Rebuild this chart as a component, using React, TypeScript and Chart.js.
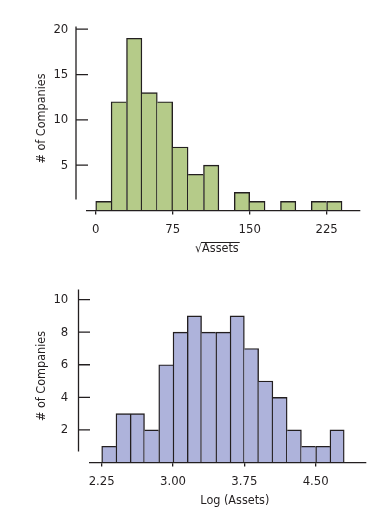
import React, { useEffect, useRef } from "react";
import { Chart, registerables } from "chart.js";

Chart.register(...registerables);

// ---- Data: histogram of sqrt(Assets) ----
const sqrtBinStart = 0;
const sqrtBinWidth = 15;
const sqrtCounts = [1, 12, 19, 13, 12, 7, 4, 5, 0, 2, 1, 0, 1, 0, 1, 1];
const sqrtXTicks = [0, 75, 150, 225];
const sqrtYTicks = [5, 10, 15, 20];

// ---- Data: histogram of Log(Assets) ----
const logBinStart = 2.25;
const logBinWidth = 0.15;
const logCounts = [1, 3, 3, 2, 6, 8, 9, 8, 8, 9, 7, 5, 4, 2, 1, 1, 2];
const logXTicks = [2.25, 3.0, 3.75, 4.5];
const logYTicks = [2, 4, 6, 8, 10];

const yTitle = "# of Companies";
const sqrtXTitle = "√Assets";
const logXTitle = "Log (Assets)";

const FONT = "'Liberation Sans Narrow', 'DejaVu Sans Condensed', 'Arial Narrow', sans-serif";
const INK = "#231f20";
const BW = 1.4;
const TICK_SIZE = 13;
const TITLE_SIZE = 12.5;

type Spec = {
  counts: number[];
  start: number;
  width: number;
  xMin: number;
  xMax: number;
  yMax: number;
  xTicks: number[];
  yTicks: number[];
  decimals: number;
  fill: string;
  xTitle: string;
  xTitleAt: number;
  overline: boolean;
  padTop: number;
  padRight: number;
  yWidth: number;
  xHeight: number;
  axisGap: number;
  tickLen: number;
  labelPad: number;
};

const decorPlugin = {
  id: "histDecor",
  afterDraw(chart: any) {
    const spec: Spec = chart.options.plugins.histDecor.spec;
    const ctx = chart.ctx;
    const ca = chart.chartArea;
    const ys = chart.scales.y;
    const xs = chart.scales.x;
    ctx.save();
    ctx.strokeStyle = INK;
    ctx.lineWidth = 1.3;
    // detached y axis line with inward ticks
    const ax = ca.left - spec.axisGap;
    ctx.beginPath();
    ctx.moveTo(ax, ca.top);
    ctx.lineTo(ax, ca.bottom - 11);
    for (const t of ys.ticks) {
      const py = ys.getPixelForValue(t.value);
      ctx.moveTo(ax, py);
      ctx.lineTo(ax + spec.tickLen, py);
    }
    ctx.stroke();
    // x title
    ctx.font = `${TITLE_SIZE}px ${FONT}`;
    ctx.fillStyle = INK;
    ctx.textAlign = "center";
    ctx.textBaseline = "middle";
    const tx = xs.getPixelForValue(spec.xTitleAt);
    const ty = ca.bottom + 38.5;
    ctx.fillText(spec.xTitle, tx, ty);
    if (spec.overline) {
      const full = ctx.measureText(spec.xTitle).width;
      const rad = ctx.measureText(spec.xTitle.charAt(0)).width;
      const left = tx - full / 2 + rad - 1;
      const right = tx + full / 2 + 1;
      const oy = ty - 6.5;
      ctx.lineWidth = 1;
      ctx.beginPath();
      ctx.moveTo(left, oy);
      ctx.lineTo(right, oy);
      ctx.stroke();
    }
    ctx.restore();
  },
};

function makeConfig(spec: Spec): any {
  const counts = spec.counts;
  return {
    type: "bar",
    data: {
      datasets: [
        {
          data: counts.map((c, i) => ({ x: spec.start + (i + 0.5) * spec.width, y: c })),
          backgroundColor: spec.fill,
          borderColor: INK,
          borderSkipped: false,
          borderWidth: (ctx: any) => {
            const i = ctx.dataIndex;
            const c = counts[i];
            const prev = i > 0 ? counts[i - 1] : 0;
            const next = i < counts.length - 1 ? counts[i + 1] : 0;
            return { left: prev <= c ? BW : 0, right: next < c ? BW : 0, top: BW, bottom: 0 };
          },
          barPercentage: 1,
          categoryPercentage: 1,
        },
      ],
    },
    options: {
      responsive: false,
      animation: false,
      devicePixelRatio: 1,
      layout: { padding: { top: spec.padTop, right: spec.padRight, left: 0, bottom: 0 } },
      plugins: {
        legend: { display: false },
        tooltip: { enabled: false },
        histDecor: { spec },
      },
      scales: {
        x: {
          type: "linear",
          offset: false,
          min: spec.xMin,
          max: spec.xMax,
          afterBuildTicks: (s: any) => {
            s.ticks = spec.xTicks.map((v) => ({ value: v }));
          },
          afterFit: (s: any) => {
            s.height = spec.xHeight;
          },
          ticks: {
            font: { family: FONT, size: TICK_SIZE },
            color: INK,
            padding: 7,
            maxRotation: 0,
            autoSkip: false,
            callback: (v: any) => Number(v).toFixed(spec.decimals),
          },
          grid: {
            display: true,
            offset: false,
            drawOnChartArea: false,
            drawTicks: true,
            tickLength: 4,
            color: INK,
            lineWidth: 1.3,
            z: 1,
          },
          border: { display: true, color: INK, width: 1.3, z: 1 },
        },
        y: {
          type: "linear",
          min: 0,
          max: spec.yMax,
          afterBuildTicks: (s: any) => {
            s.ticks = spec.yTicks.map((v) => ({ value: v }));
          },
          afterFit: (s: any) => {
            s.width = spec.yWidth;
          },
          ticks: {
            font: { family: FONT, size: TICK_SIZE },
            color: INK,
            padding: spec.labelPad,
            autoSkip: false,
          },
          grid: { display: false, drawTicks: false },
          border: { display: false },
          title: {
            display: true,
            text: yTitle,
            color: INK,
            font: { family: FONT, size: TITLE_SIZE },
            padding: { top: 34, bottom: 0 },
          },
        },
      },
    },
    plugins: [decorPlugin],
  };
}

const topSpec: Spec = {
  counts: sqrtCounts,
  start: sqrtBinStart,
  width: sqrtBinWidth,
  xMin: -8.5,
  xMax: 257.5,
  yMax: 20.3,
  xTicks: sqrtXTicks,
  yTicks: sqrtYTicks,
  decimals: 0,
  fill: "#b5cb89",
  xTitle: sqrtXTitle,
  xTitleAt: 118,
  overline: true,
  padTop: 10,
  padRight: 26,
  yWidth: 87,
  xHeight: 49.5,
  axisGap: 11,
  tickLen: 12,
  labelPad: 18.7,
};

const bottomSpec: Spec = {
  counts: logCounts,
  start: logBinStart,
  width: logBinWidth,
  xMin: 2.127,
  xMax: 5.026,
  yMax: 10.62,
  xTicks: logXTicks,
  yTicks: logYTicks,
  decimals: 2,
  fill: "#aeb3db",
  xTitle: logXTitle,
  xTitleAt: 3.65,
  overline: false,
  padTop: 20,
  padRight: 20.3,
  yWidth: 90,
  xHeight: 53.5,
  axisGap: 11.5,
  tickLen: 11.5,
  labelPad: 21.7,
};

function Hist({ spec, top, height }: { spec: Spec; top: number; height: number }) {
  const ref = useRef<HTMLCanvasElement | null>(null);
  useEffect(() => {
    if (!ref.current) return;
    const chart = new Chart(ref.current, makeConfig(spec));
    return () => chart.destroy();
  }, [spec]);
  return (
    <canvas
      ref={ref}
      width={386}
      height={height}
      style={{ position: "absolute", left: 0, top, width: 386, height, display: "block" }}
    />
  );
}

export default function App() {
  return (
    <div style={{ position: "absolute", left: 0, top: 0, width: 386, height: 516, background: "#ffffff" }}>
      <Hist spec={topSpec} top={0} height={260} />
      <Hist spec={bottomSpec} top={260} height={256} />
    </div>
  );
}
